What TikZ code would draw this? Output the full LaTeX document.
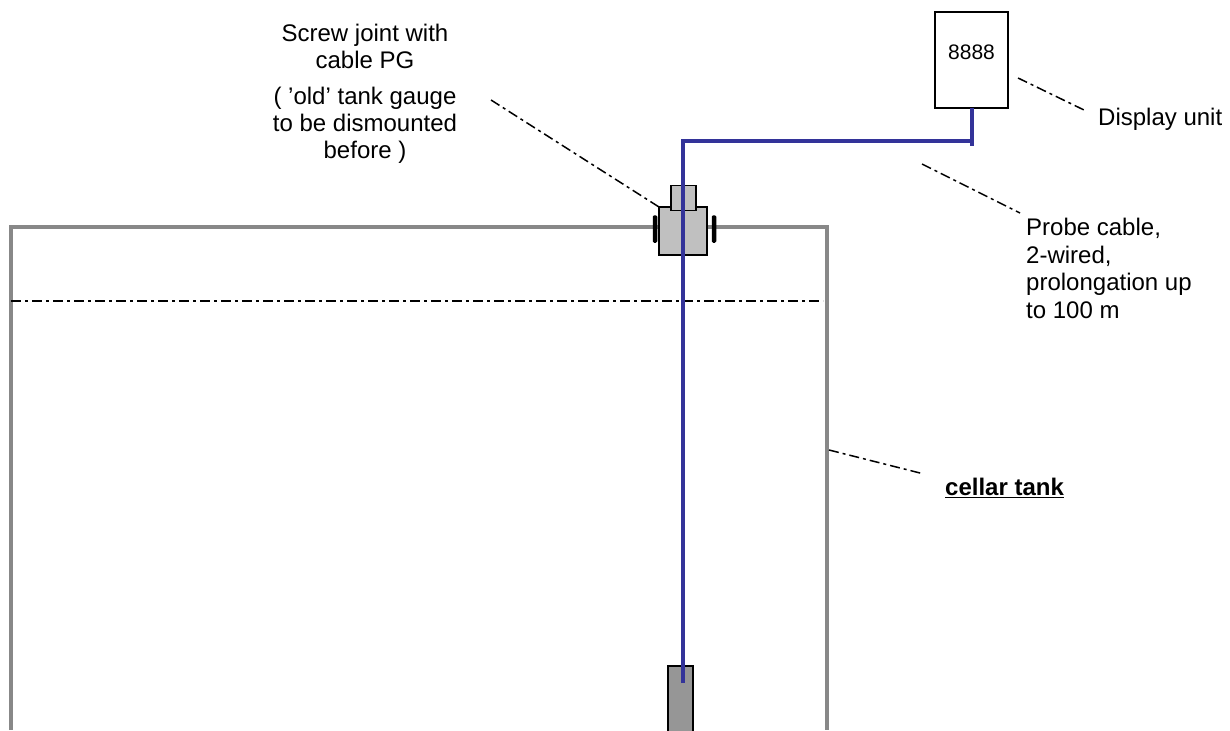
\documentclass[tikz,border=0pt]{standalone}
\usepackage{fontspec}
\setmainfont{Liberation Sans}
\definecolor{cableblue}{RGB}{51,51,153}
\definecolor{tankgrey}{RGB}{136,136,136}
\definecolor{glandgrey}{RGB}{192,192,192}
\definecolor{probegrey}{RGB}{150,150,150}

\begin{document}
\begin{tikzpicture}[x=1pt,y=-1pt,
    rect/.style={draw, rectangle, minimum width=#1, inner sep=0pt, line width=1.5pt, outer sep=0pt},
    note/.style={inner sep=0pt, align=left, font=\fontsize{24}{27.7}\selectfont, anchor=north west},
    notec/.style={inner sep=0pt, align=center, font=\fontsize{24}{27}\selectfont},
    leader/.style={line width=1.5pt, dash pattern=on 10pt off 4pt on 3pt off 4pt},
    tank/.style={draw=tankgrey, line width=3.5pt},
    cable/.style={draw=cableblue, line width=4pt}]
    \useasboundingbox (0,0) rectangle (1230,730);

    % Tank
    \draw[tank] (11,730) -- (11,227) -- (827,227) -- (827,730);
    \coordinate (level-l) at (11,301);
    \coordinate (level-r) at (823,301);
    \draw[leader] (level-l) -- (level-r);

    % Screw joint
    \node[rect=48pt, minimum height=48pt, fill=glandgrey] (gland) at (683,231) {};
    \node[rect=25pt, minimum height=25pt, fill=glandgrey] (glandcap) at (683.5,198) {};
    \node[rect=3pt, minimum height=26pt, fill=black, rounded corners=1pt] (washer-l) at (655,229) {};
    \node[rect=3pt, minimum height=26pt, fill=black, rounded corners=1pt] (washer-r) at (714,229) {};

    % Probe and display
    \node[rect=25pt, minimum height=66pt, fill=probegrey] (probe) at (680.5,699) {};
    \node[rect=73pt, minimum height=96pt, line width=1.2pt] (display) at (971.5,60) {};
    \node[inner sep=0pt, font=\fontsize{21}{24}\selectfont] (digits) at (971.5,52) {8888};

    % Cable
    \coordinate (tip) at (683,683);
    \coordinate (bend) at (972,141);
    \coordinate (stub) at (972,146.5);
    \draw[cable] (tip) |- (bend);
    \draw[cable] (display.south -| stub) -- (stub);

    % Labels
    \node[notec] (screw-label) at (365,46.5) {Screw joint with\\cable PG};
    \node[notec] (old-label) at (365,125.5) {( ’old’ tank gauge\\to be dismounted\\before )};
    \node[note] (display-label) at (1098,108) {Display unit};
    \node[note] (cable-label) at (1026,218) {Probe cable,\\2-wired,\\prolongation up\\to 100 m};
    \node[note, font=\fontsize{24}{24}\selectfont\bfseries] (tank-label) at (945,478) {\underline{cellar tank}};

    % Leaders
    \coordinate (screw-from) at (491,100);
    \coordinate (display-from) at (1018,78);
    \coordinate (display-to) at (1084,110);
    \coordinate (cable-from) at (922,164);
    \coordinate (cable-to) at (1020,213);
    \coordinate (tank-from) at (829,450);
    \coordinate (tank-to) at (924,474);
    \draw[leader] (screw-from) -- (gland.north west);
    \draw[leader] (display-from) -- (display-to);
    \draw[leader] (cable-from) -- (cable-to);
    \draw[leader] (tank-from) -- (tank-to);
\end{tikzpicture}
\end{document}
